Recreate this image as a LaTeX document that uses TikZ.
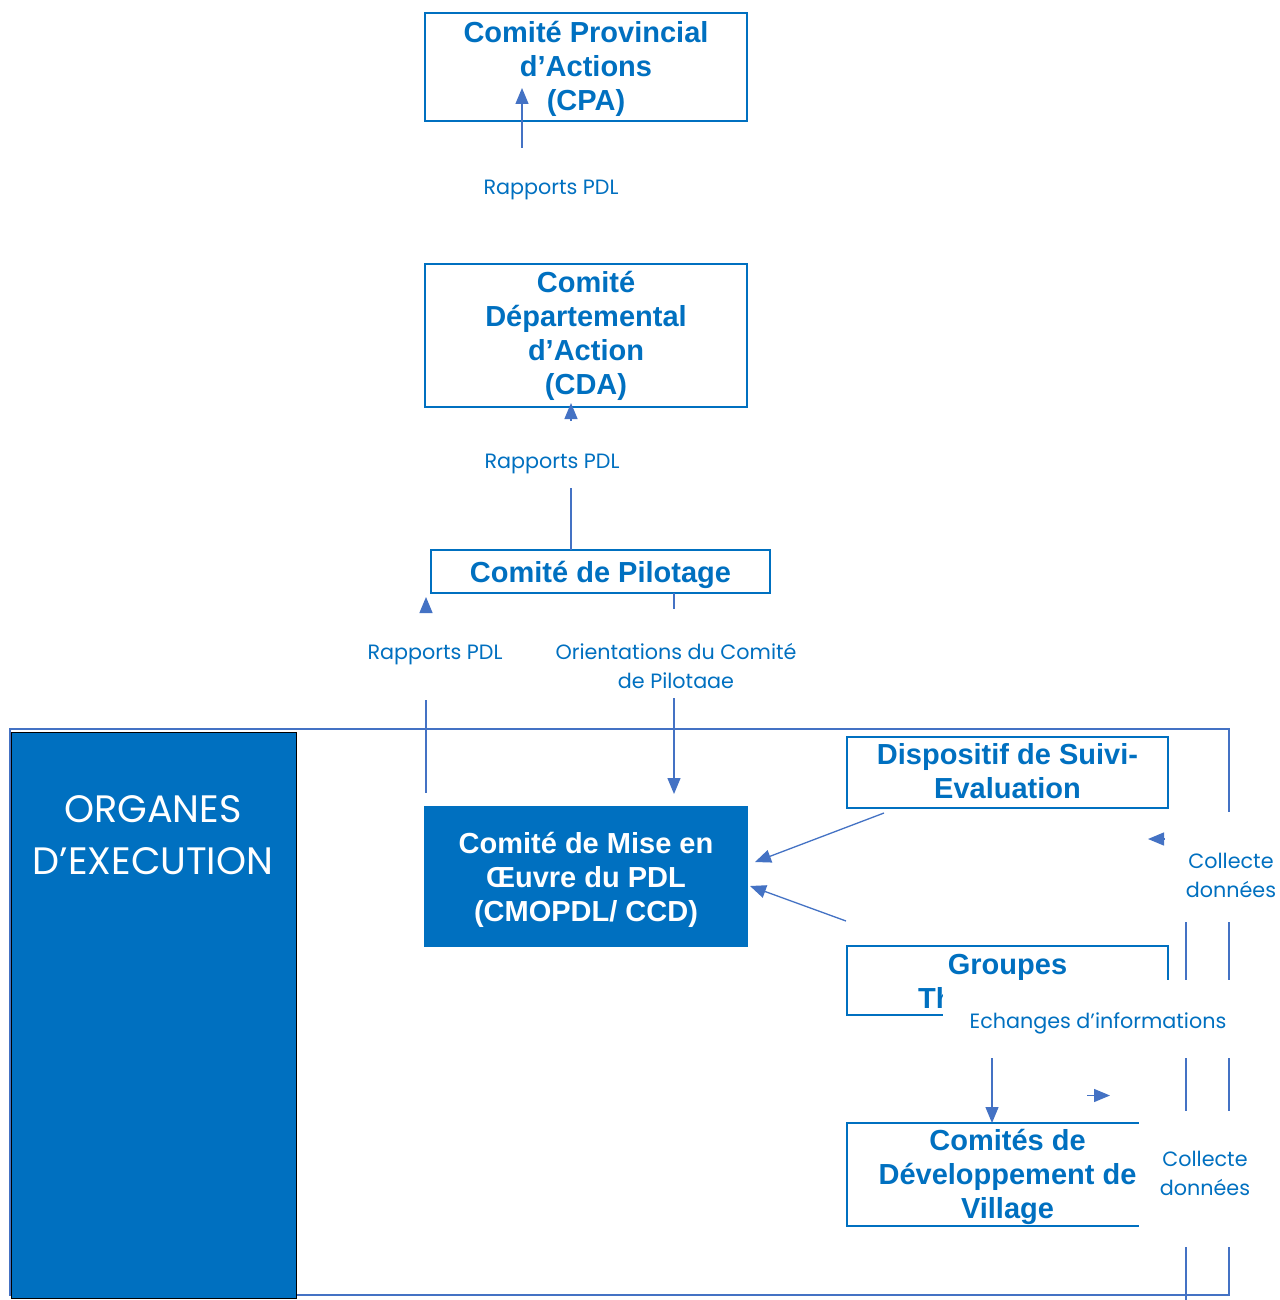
\documentclass[tikz,border=0pt]{standalone}
\usepackage{fontspec}
\setmainfont{Liberation Sans}
\newfontfamily\gothic{Poppins}
\usetikzlibrary{arrows.meta}
\definecolor{boxblue}{HTML}{0070C0}
\definecolor{linkblue}{HTML}{4472C4}
\begin{document}
\begin{tikzpicture}[x=1pt,y=-1pt,
 box/.style={draw=boxblue, line width=2pt, inner sep=0pt},
 fillbox/.style={box, fill=boxblue},
 btext/.style={text=boxblue, font=\fontsize{29}{34}\selectfont\bfseries, align=center, inner sep=0pt},
 wtext/.style={btext, text=white},
 lbl/.style={text=boxblue, font=\gothic\fontsize{20.7}{29}\selectfont, align=center, inner sep=0pt},
 orgtext/.style={text=white, font=\gothic\fontsize{38.2}{52}\selectfont, align=center, inner sep=0pt},
 cover/.style={fill=white, inner sep=0pt},
 link/.style={draw=linkblue, line width=1.3pt},
 arr/.style={link, -{Triangle[length=16pt,width=13pt]}},
 frame/.style={draw=linkblue, line width=2.5pt},
]
\useasboundingbox (0,0) rectangle (1279,1300);
\fill[white] (0,0) rectangle (1279,1300);

% outer frame and inner line
\draw[frame] (10,729) rectangle (1229,1295);
\draw[link] (1186,922) -- (1186,1300);

% organes
\node[fill=boxblue, draw=black, line width=0.8pt, minimum width=285pt, minimum height=566pt, inner sep=0pt] (org) at (153.5,1015) {};
\node[orgtext] (orgt) at (153,835) {ORGANES\\D’EXECUTION};

% boxes
\node[box, minimum width=322pt, minimum height=108pt] (cpa) at (586,67) {};
\node[btext] (cpat) at ([yshift=-2pt]cpa.center) {Comité Provincial\\d’Actions\\(CPA)};
\node[box, minimum width=322pt, minimum height=143pt] (cda) at (586,335.5) {};
\node[btext] (cdat) at (cda.center) {Comité\\Départemental\\d’Action\\(CDA)};
\node[box, minimum width=339pt, minimum height=43pt] (pil) at (600.5,571.5) {};
\node[btext] (pilt) at ([yshift=-3pt]pil.center) {Comité de Pilotage};
\node[fillbox, minimum width=322pt, minimum height=139pt] (cmo) at (586,876.5) {};
\node[wtext] (cmot) at ([yshift=-3.5pt]cmo.center) {Comité de Mise en\\Œuvre du PDL\\(CMOPDL/ CCD)};
\node[box, minimum width=321pt, minimum height=71pt] (dse) at (1007.5,772.5) {};
\node[btext] (dset) at ([yshift=1pt]dse.center) {Dispositif de Suivi-\\Evaluation};
\node[box, minimum width=321pt, minimum height=69pt] (grp) at (1007.5,980.5) {};
\node[btext] (grpt) at ([yshift=-4pt]grp.center) {Groupes\\Thématiques};
\node[box, minimum width=321pt, minimum height=103pt] (cdv) at (1007.5,1174.5) {};
\node[btext] (cdvt) at ([yshift=-2.5pt]cdv.center) {Comités de\\Développement de\\Village};

% connector coordinates
\coordinate (a1s) at (522,148);
\coordinate (a1t) at (522,88);
\coordinate (a2s) at (571,488);
\coordinate (a2e) at (571,550);
\coordinate (a2b) at (571,421);
\coordinate (a2t) at (571,403);
\coordinate (a3b) at (426,612);
\coordinate (a3t) at (426,597);
\coordinate (a3s) at (426,700);
\coordinate (a3e) at (426,793);
\coordinate (o1s) at (674,593);
\coordinate (o1e) at (674,609);
\coordinate (o2s) at (674,698);
\coordinate (o2t) at (674,794);
\coordinate (d1s) at (884,813);
\coordinate (d1t) at (755,862);
\coordinate (g1s) at (846,921);
\coordinate (g1t) at (750,886);
\coordinate (v1s) at (992,1058);
\coordinate (v1t) at (992,1123);
\coordinate (r1s) at (1087,1095.5);
\coordinate (r1t) at (1110,1095.5);
\coordinate (l1b) at (1164,839);
\coordinate (l1t) at (1148,839);

% connectors
\draw[arr] (a1s) -- (a1t);
\draw[link] (a2s) -- (a2e);
\draw[arr] (a2b) -- (a2t);
\draw[arr] (a3b) -- (a3t);
\draw[link] (a3s) -- (a3e);
\draw[link] (o1s) -- (o1e);
\draw[arr] (o2s) -- (o2t);
\draw[arr] (d1s) -- (d1t);
\draw[arr] (g1s) -- (g1t);
\draw[arr] (v1s) -- (v1t);

% covers
\node[cover, minimum width=310pt, minimum height=78pt] (ech) at (1098,1019) {};
\node[cover, minimum width=100pt, minimum height=110pt] (cov1) at (1231,867) {};
\node[cover, minimum width=132pt, minimum height=136pt] (cov2) at (1205,1179) {};

\draw[arr] (r1s) -- (r1t);
\draw[arr] (l1b) -- (l1t);

% labels
\node[lbl] (l1) at (551,190) {Rapports PDL};
\node[lbl] (l2) at (552,464) {Rapports PDL};
\node[lbl] (l3) at (435,655) {Rapports PDL};
\node[lbl] (l4) at (676,665.5) {Orientations du Comité\\de Pilotaae};
\node[lbl] (l5) at (1231,875) {Collecte\\données};
\node[lbl] (l6) at (1098,1023) {Echanges d’informations};
\node[lbl] (l7) at (1205,1173) {Collecte\\données};
\end{tikzpicture}
\end{document}
